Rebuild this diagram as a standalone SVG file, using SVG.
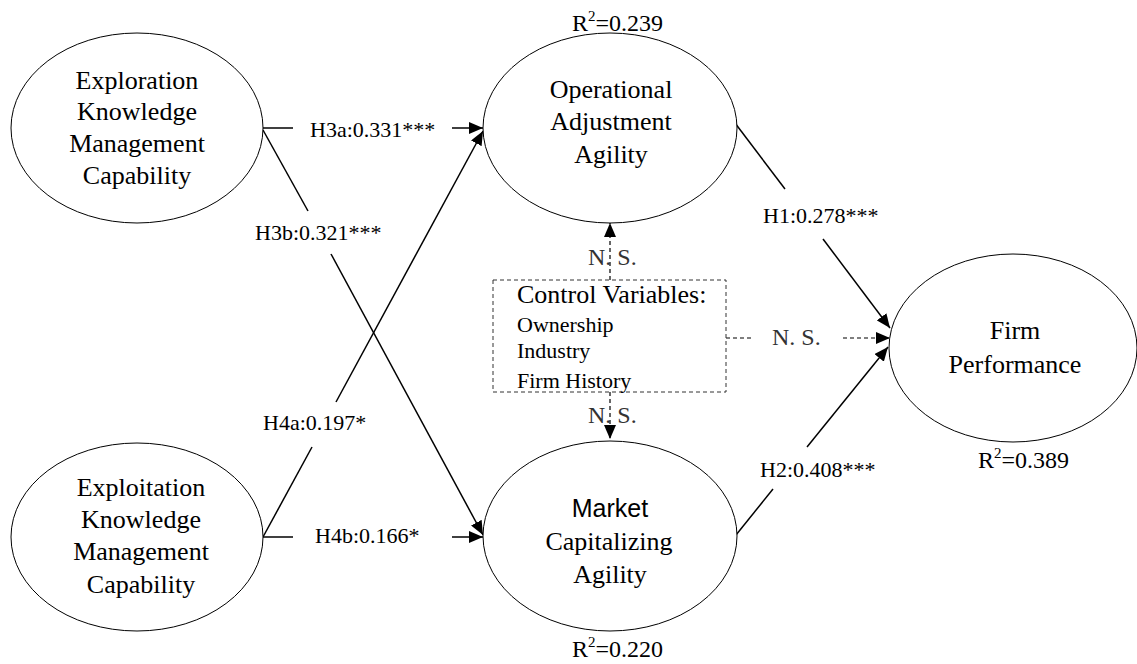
<svg xmlns="http://www.w3.org/2000/svg" width="1137" height="664" viewBox="0 0 1137 664">
<style>
.node{fill:#fff;stroke:#000;stroke-width:1}
.t{font-family:"Liberation Serif","Times New Roman",serif;font-size:26px;fill:#000;text-anchor:middle}
.ts{font-family:"Liberation Sans",Arial,sans-serif;font-size:25px;fill:#000;text-anchor:middle}
.lbl{font-family:"Liberation Serif","Times New Roman",serif;font-size:22px;fill:#000}
.r2{font-family:"Liberation Serif","Times New Roman",serif;font-size:24px;fill:#000}
.ns{font-family:"Liberation Serif","Times New Roman",serif;font-size:24px;fill:#333}
.c{stroke:#000;stroke-width:1.5;fill:none}
.d{stroke:#000;stroke-width:1.2;fill:none;stroke-dasharray:4,3}
.box{fill:none;stroke:#333;stroke-width:1;stroke-dasharray:4,3}
</style>
<defs>
<marker id="arr" markerUnits="userSpaceOnUse" markerWidth="14" markerHeight="12" refX="14" refY="6" orient="auto">
<path d="M0,0 L14,6 L0,12 z" fill="#000"/>
</marker>
</defs>
<rect width="1137" height="664" fill="#fff"/>
<g id="connectors">
<line class="c" x1="263" y1="128" x2="293" y2="128"/>
<line class="c" x1="452" y1="128" x2="483" y2="128" marker-end="url(#arr)"/>
<line class="c" x1="263" y1="130" x2="308" y2="211"/>
<line class="c" x1="331" y1="254" x2="483" y2="535" marker-end="url(#arr)"/>
<line class="c" x1="263" y1="537" x2="312" y2="447"/>
<line class="c" x1="336" y1="402" x2="483" y2="131" marker-end="url(#arr)"/>
<line class="c" x1="263" y1="537" x2="293" y2="537"/>
<line class="c" x1="452" y1="537" x2="483" y2="537" marker-end="url(#arr)"/>
<line class="c" x1="735" y1="123" x2="785" y2="189"/>
<line class="c" x1="823" y1="239" x2="890" y2="328" marker-end="url(#arr)"/>
<line class="c" x1="736" y1="535" x2="773" y2="489"/>
<line class="c" x1="807" y1="447" x2="888" y2="347" marker-end="url(#arr)"/>
<line class="d" x1="726" y1="338" x2="754" y2="338"/>
<line class="d" x1="843" y1="338" x2="890" y2="338" marker-end="url(#arr)"/>
<line class="d" x1="610" y1="280" x2="610" y2="223" marker-end="url(#arr)"/>
<line class="d" x1="610" y1="392" x2="610" y2="439" marker-end="url(#arr)"/>
<text class="lbl" x="310" y="137">H3a:0.331***</text>
<text class="lbl" x="255" y="240">H3b:0.321***</text>
<text class="lbl" x="263" y="430">H4a:0.197*</text>
<text class="lbl" x="315" y="543">H4b:0.166*</text>
<text class="lbl" x="763" y="223">H1:0.278***</text>
<text class="lbl" x="760" y="477">H2:0.408***</text>
<text class="ns" x="588" y="265">N. S.</text>
<text class="ns" x="588" y="423">N. S.</text>
<text class="ns" x="772" y="345">N. S.</text>
</g>
<g id="exploration">
<ellipse class="node" cx="137" cy="128" rx="126" ry="95"/>
<text class="t" x="137" y="89">Exploration</text>
<text class="t" x="137" y="120">Knowledge</text>
<text class="t" x="137" y="152">Management</text>
<text class="t" x="137" y="184">Capability</text>
</g>
<g id="exploitation">
<ellipse class="node" cx="137" cy="537" rx="126" ry="94"/>
<text class="t" x="141" y="496">Exploitation</text>
<text class="t" x="141" y="528">Knowledge</text>
<text class="t" x="141" y="560">Management</text>
<text class="t" x="141" y="593">Capability</text>
</g>
<g id="operational">
<ellipse class="node" cx="610" cy="128" rx="127" ry="95"/>
<text class="t" x="611" y="98">Operational</text>
<text class="t" x="611" y="130">Adjustment</text>
<text class="t" x="611" y="163">Agility</text>
<text class="r2" x="572" y="31">R<tspan font-size="15" dy="-10">2</tspan><tspan dy="10">=0.239</tspan></text>
</g>
<g id="market">
<ellipse class="node" cx="610" cy="536" rx="127" ry="95"/>
<text class="ts" x="610" y="517">Market</text>
<text class="t" x="609" y="550">Capitalizing</text>
<text class="t" x="610" y="583">Agility</text>
<text class="r2" x="572" y="657">R<tspan font-size="15" dy="-10">2</tspan><tspan dy="10">=0.220</tspan></text>
</g>
<g id="firm">
<ellipse class="node" cx="1013" cy="348" rx="124" ry="94"/>
<text class="t" x="1015" y="339">Firm</text>
<text class="t" x="1015" y="373">Performance</text>
<text class="r2" x="978" y="468">R<tspan font-size="15" dy="-10">2</tspan><tspan dy="10">=0.389</tspan></text>
</g>
<g id="controls">
<rect class="box" x="493" y="280" width="233" height="112"/>
<text class="t" x="517" y="303" text-anchor="start" style="text-anchor:start">Control Variables:</text>
<text class="lbl" x="517" y="332">Ownership</text>
<text class="lbl" x="517" y="358">Industry</text>
<text class="lbl" x="517" y="388">Firm History</text>
</g>
</svg>
